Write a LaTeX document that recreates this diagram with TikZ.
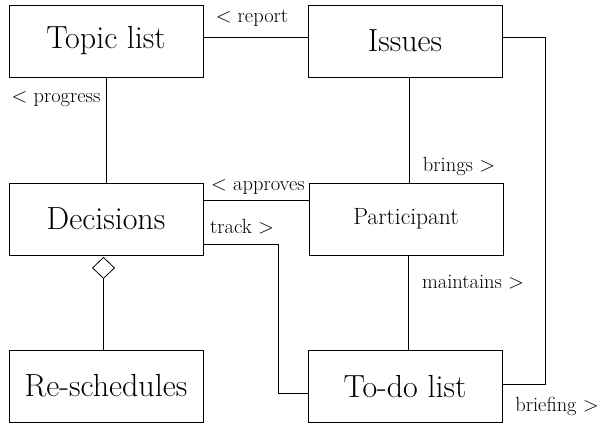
\documentclass[tikz,border=0pt]{standalone}
\usetikzlibrary{arrows.meta}
\begin{document}
\begin{tikzpicture}[x=1pt, y=-1pt, line width=0.8pt,
  box/.style={rectangle, draw=black, minimum width=194pt, minimum height=72pt, inner sep=0pt, font=\fontsize{32}{36}\selectfont},
  lbl/.style={inner sep=0pt, font=\fontsize{20.5}{24}\selectfont}]
\useasboundingbox (0,0) rectangle (603,425);
\node [box] (topic) at (106,41) {Topic list};
\node [box] (issues) at (405,41) {Issues};
\node [box] (dec) at (106,219) {Decisions};
\node [box, font=\fontsize{23.5}{28}\selectfont] (part) at (406,219) {Participant};
\node [box] (resched) at (106,386) {Re-schedules};
\node [box] (todo) at (405,386.5) {To-do list};
% associations
\draw ([yshift=4pt]topic.east) -- ([yshift=4pt]issues.west);
\draw (topic.south) -- (dec.north);
\draw ([xshift=4pt]issues.south) -- ([xshift=4pt]issues.south |- part.north);
\draw ([yshift=19pt]dec.east) -- ([yshift=19pt]part.west);
\draw ([yshift=-25pt]dec.east) -- ++(75,0) |- ([yshift=-6.5pt]todo.west);
\draw ([xshift=2pt]part.south) -- ([xshift=2pt]part.south |- todo.north);
\draw ([yshift=4pt]issues.east) -- ++(43,0) |- ([yshift=2pt]todo.east);
% aggregation
\draw [-{Diamond[open, length=22pt, width=23pt]}] ([xshift=-2.5pt]resched.north) -- ([xshift=-2.5pt, yshift=-1.5pt]resched.north |- dec.south);
% role names
\node [lbl] (report) at (252,18) {$<$ report};
\node [lbl] (progress) at (56,99) {$<$ progress};
\node [lbl] (brings) at (459,166) {brings $>$};
\node [lbl] (approves) at (258,187) {$<$ approves};
\node [lbl] (track) at (242,227) {track $>$};
\node [lbl] (maintains) at (473,282) {maintains $>$};
\node [lbl] (briefing) at (557,406) {briefing $>$};
\end{tikzpicture}
\end{document}
